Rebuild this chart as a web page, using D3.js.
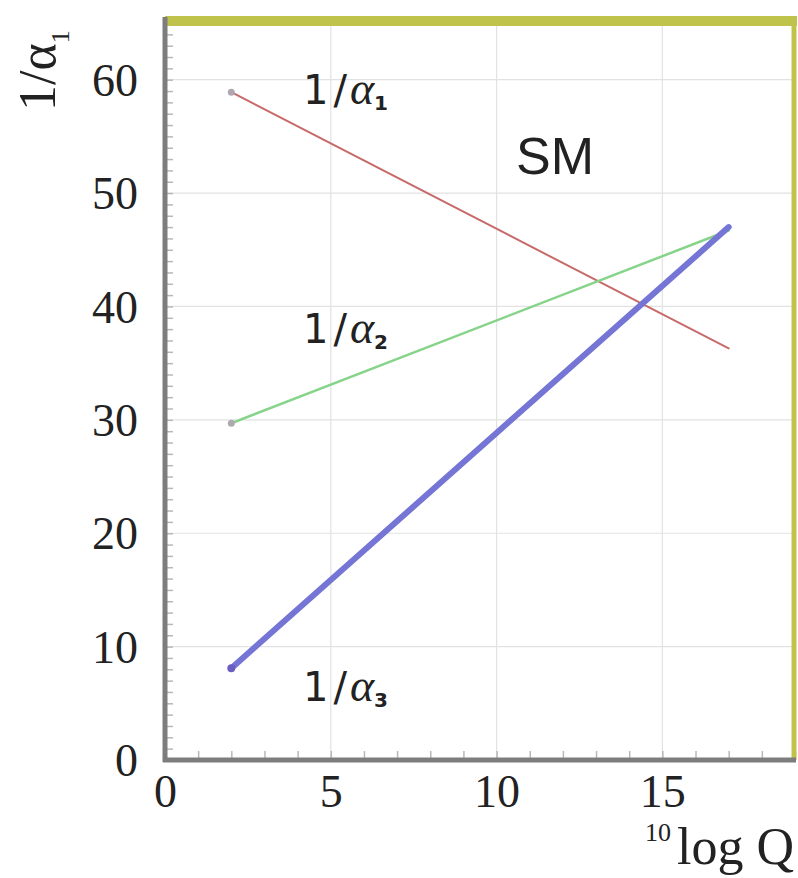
<!DOCTYPE html>
<html>
<head>
<meta charset="utf-8">
<style>
  body { margin: 0; background: #fff; }
  svg text { fill: #222; }
</style>
</head>
<body>
<script src="https://d3js.org/d3.v7.min.js"></script>
<script>

  var svgArea = { width: 798, height: 878 };

  // data
  const logQ = [2, 17];
  const invAlpha1 = [58.9, 36.3];
  const invAlpha2 = [29.7, 46.7];
  const invAlpha3 = [8.1, 47.0];
  const xTicks = [0, 5, 10, 15];
  const yTicks = [0, 10, 20, 30, 40, 50, 60];

  var series = [
    { name: '1', values: invAlpha1, color: '#c86a6a', width: 2 },
    { name: '2', values: invAlpha2, color: '#86d48a', width: 2.5 },
    { name: '3', values: invAlpha3, color: '#7575d6', width: 6 }
  ];

  const svg = d3.select('body').append('svg')
    .attr('width', svgArea.width)
    .attr('height', svgArea.height);

  var xScale = d3.scaleLinear().domain([0, 19]).range([165, 795]);
  var yScale = d3.scaleLinear().domain([0, 65]).range([760, 23]);

  // grid
  svg.append('g')
    .selectAll('line')
    .data(xTicks.slice(1))
    .join('line')
      .attr('x1', d => xScale(d)).attr('x2', d => xScale(d))
      .attr('y1', yScale(0)).attr('y2', yScale(65))
      .attr('stroke', '#e2e2e2').attr('stroke-width', 1.2);

  svg.append('g')
    .selectAll('line')
    .data(yTicks.slice(1))
    .join('line')
      .attr('x1', xScale(0)).attr('x2', xScale(19))
      .attr('y1', d => yScale(d)).attr('y2', d => yScale(d))
      .attr('stroke', '#e2e2e2').attr('stroke-width', 1.2);

  // minor ticks, pointing inward
  var xMinor = svg.append('g')
    .attr('transform', `translate(0,${yScale(0)})`)
    .call(d3.axisBottom(xScale).ticks(19).tickSize(-9).tickFormat(''));
  var yMinor = svg.append('g')
    .attr('transform', `translate(${xScale(0)},0)`)
    .call(d3.axisLeft(yScale).ticks(65).tickSize(-8).tickFormat(''));
  [xMinor, yMinor].forEach(g => {
    g.select('.domain').remove();
    g.selectAll('line').attr('stroke', '#b8b8b8').attr('stroke-width', 1.5);
  });

  // frame: yellow-green top and right
  svg.append('line')
    .attr('x1', xScale(0)).attr('x2', 797)
    .attr('y1', 21).attr('y2', 21)
    .attr('stroke', '#bfc34c').attr('stroke-width', 10);
  svg.append('line')
    .attr('x1', 794).attr('x2', 794)
    .attr('y1', 17).attr('y2', yScale(0))
    .attr('stroke', '#bfc34c').attr('stroke-width', 5);

  // lines
  var line = d3.line()
    .x((d, i) => xScale(logQ[i]))
    .y(d => yScale(d));

  svg.append('g')
    .selectAll('path')
    .data(series)
    .join('path')
      .attr('d', d => line(d.values))
      .attr('fill', 'none')
      .attr('stroke', d => d.color)
      .attr('stroke-width', d => d.width)
      .attr('stroke-linecap', 'round');

  svg.append('g')
    .selectAll('circle')
    .data(series)
    .join('circle')
      .attr('cx', xScale(logQ[0]))
      .attr('cy', d => yScale(d.values[0]))
      .attr('r', d => d.name === '3' ? 4 : 3.5)
      .attr('fill', d => d.name === '3' ? '#6a5fc0' : '#b0a8b0');

  // grey axes with labels
  var xAxis = svg.append('g')
    .attr('transform', `translate(0,${yScale(0)})`)
    .call(d3.axisBottom(xScale).tickValues(xTicks).tickSize(0).tickPadding(14));
  var yAxis = svg.append('g')
    .attr('transform', `translate(${xScale(0)},0)`)
    .call(d3.axisLeft(yScale).tickValues(yTicks).tickSize(0).tickPadding(27));
  [xAxis, yAxis].forEach(g => {
    g.select('.domain').remove();
    g.selectAll('text')
      .attr('font-family', '"Liberation Serif", serif')
      .attr('font-size', 46)
      .attr('fill', '#222');
  });
  xAxis.selectAll('text').attr('dy', '0.72em');
  yAxis.selectAll('text').attr('dy', '0.34em');

  svg.append('line')
    .attr('x1', xScale(0)).attr('x2', xScale(0))
    .attr('y1', 17).attr('y2', yScale(0) + 2)
    .attr('stroke', '#7d7d7d').attr('stroke-width', 5);
  svg.append('line')
    .attr('x1', xScale(0) - 2).attr('x2', 796)
    .attr('y1', yScale(0)).attr('y2', yScale(0))
    .attr('stroke', '#7d7d7d').attr('stroke-width', 5);

  // axis titles
  svg.append('text')
    .attr('x', 794).attr('y', 864)
    .attr('text-anchor', 'end')
    .attr('font-family', '"Liberation Serif", serif')
    .attr('font-size', 52)
    .text('log Q');
  svg.append('text')
    .attr('x', 671).attr('y', 841)
    .attr('text-anchor', 'end')
    .attr('font-family', '"Liberation Serif", serif')
    .attr('font-size', 26)
    .text('10');

  var yt = svg.append('text')
    .attr('transform', 'translate(55,111) rotate(-90)')
    .attr('font-family', '"Liberation Serif", serif')
    .attr('font-size', 52);
  yt.append('tspan').text('1/α');
  yt.append('tspan').attr('font-size', 26).attr('dy', 14).text('1');

  // line labels
  var labelPos = [
    { name: '1', x: 303, y: 104 },
    { name: '2', x: 303, y: 343 },
    { name: '3', x: 303, y: 701 }
  ];
  labelPos.forEach(p => {
    var t = svg.append('text')
      .attr('x', p.x).attr('y', p.y)
      .attr('font-family', '"DejaVu Sans", sans-serif')
      .attr('font-size', 40);
    t.append('tspan').text('1');
    t.append('tspan').attr('dx', 5).text('/');
    t.append('tspan').attr('dx', 3)
      .attr('font-family', '"Liberation Serif", serif')
      .attr('font-style', 'italic').attr('font-size', 46).text('α');
    t.append('tspan').attr('font-size', 20).attr('font-weight', 'bold').attr('dy', 6).text(p.name);
  });

  svg.append('text')
    .attr('x', 516).attr('y', 174)
    .attr('font-family', '"Liberation Sans", Arial, sans-serif')
    .attr('font-size', 52)
    .text('SM');

</script>
</body>
</html>
